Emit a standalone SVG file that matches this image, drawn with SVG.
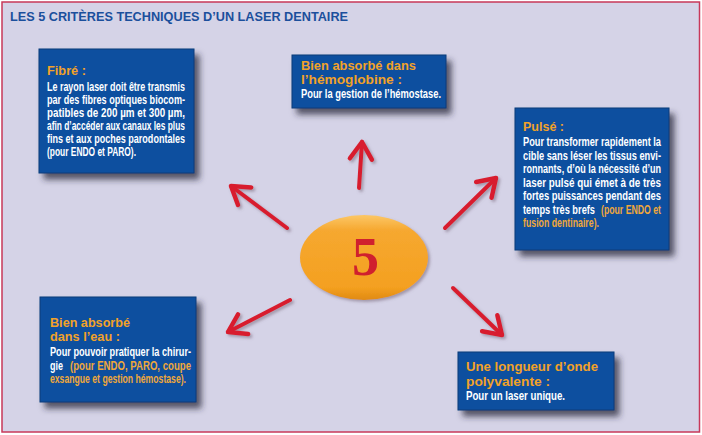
<svg xmlns="http://www.w3.org/2000/svg" width="702" height="435" viewBox="0 0 702 435">
<defs>
<style>
.box{fill:#0b4f9f;stroke:#073a78;stroke-width:1}
.hd{font-family:"Liberation Sans",Arial,sans-serif;font-weight:bold;font-size:13.5px;fill:#f2a228}
.bd{font-family:"Liberation Sans Narrow","Liberation Sans",Arial,sans-serif;font-weight:bold;font-size:12.2px;fill:#ffffff}
.or{fill:#f0a83a}
.arr{fill:none;stroke:#d81f2e;stroke-width:4;stroke-linecap:round;stroke-linejoin:round}
</style>
<filter id="sh" x="-10%" y="-10%" width="130%" height="140%">
<feDropShadow dx="5" dy="6" stdDeviation="3" flood-color="#2a2a3a" flood-opacity="0.75"/>
</filter>
<filter id="ash" x="-20%" y="-20%" width="140%" height="140%">
<feDropShadow dx="2" dy="2" stdDeviation="1.5" flood-color="#6a5a6a" flood-opacity="0.5"/>
</filter>
<marker id="head" markerUnits="userSpaceOnUse" markerWidth="34" markerHeight="34" viewBox="-22 -17 34 34" refX="0" refY="0" orient="auto">
<path d="M -17 -11 L 0 0 L -17 11" fill="none" stroke="#d81f2e" stroke-width="4.5" stroke-linecap="round" stroke-linejoin="round"/>
</marker>
<linearGradient id="og" x1="0" y1="0" x2="0" y2="1">
<stop offset="0" stop-color="#fcc766"/>
<stop offset="0.18" stop-color="#f6a830"/>
<stop offset="0.85" stop-color="#f4a020"/>
<stop offset="1" stop-color="#e08a12"/>
</linearGradient>
</defs>
<rect x="0" y="0" width="702" height="435" fill="#ffffff"/>
<rect x="2" y="2" width="697.5" height="430" fill="#d5d3e7" stroke="#c8385a" stroke-width="1.5"/>
<text x="10" y="20.5" font-family="'Liberation Sans',Arial,sans-serif" font-weight="bold" font-size="13" fill="#1b4f9c" textLength="338" lengthAdjust="spacingAndGlyphs">LES 5 CRITÈRES TECHNIQUES D’UN LASER DENTAIRE</text>

<g id="connectors" filter="url(#ash)">
<path class="arr" d="M 287 228 L 231 186" marker-end="url(#head)"/>
<path class="arr" d="M 359 188 L 362 142" marker-end="url(#head)"/>
<path class="arr" d="M 445 228 L 496 178" marker-end="url(#head)"/>
<path class="arr" d="M 290 300 L 228 332" marker-end="url(#head)"/>
<path class="arr" d="M 453 288 L 502 335" marker-end="url(#head)"/>
</g>

<g id="center">
<ellipse cx="364" cy="257.5" rx="64" ry="42.5" fill="url(#og)" filter="url(#ash)"/>
<text x="365.5" y="275" text-anchor="middle" font-family="'Liberation Serif','Times New Roman',serif" font-weight="bold" font-size="54" fill="#d0202e">5</text>
</g>

<g id="fibre">
<rect class="box" x="39" y="49" width="155" height="124" filter="url(#sh)"/>
<text class="hd" x="47" y="75" textLength="39" lengthAdjust="spacingAndGlyphs">Fibré :</text>
<text class="bd" x="47" y="91" textLength="138" lengthAdjust="spacingAndGlyphs">Le rayon laser doit être transmis</text>
<text class="bd" x="47" y="104" textLength="138" lengthAdjust="spacingAndGlyphs">par des fibres optiques biocom-</text>
<text class="bd" x="47" y="117" textLength="138" lengthAdjust="spacingAndGlyphs">patibles de 200 µm et 300 µm,</text>
<text class="bd" x="47" y="130" textLength="138" lengthAdjust="spacingAndGlyphs">afin d’accéder aux canaux les plus</text>
<text class="bd" x="47" y="143" textLength="138" lengthAdjust="spacingAndGlyphs">fins et aux poches parodontales</text>
<text class="bd" x="47" y="156" textLength="89" lengthAdjust="spacingAndGlyphs">(pour ENDO et PARO).</text>
</g>

<g id="hemoglobine">
<rect class="box" x="292" y="55" width="154" height="53" filter="url(#sh)"/>
<text class="hd" x="301" y="70" textLength="115" lengthAdjust="spacingAndGlyphs">Bien absorbé dans</text>
<text class="hd" x="301" y="83.5" textLength="101" lengthAdjust="spacingAndGlyphs">l’hémoglobine :</text>
<text class="bd" x="301" y="98" textLength="140" lengthAdjust="spacingAndGlyphs">Pour la gestion de l’hémostase.</text>
</g>

<g id="pulse">
<rect class="box" x="515" y="108" width="154" height="142" filter="url(#sh)"/>
<text class="hd" x="523" y="131" textLength="41" lengthAdjust="spacingAndGlyphs">Pulsé :</text>
<text class="bd" x="523" y="146" textLength="138" lengthAdjust="spacingAndGlyphs">Pour transformer rapidement la</text>
<text class="bd" x="523" y="159.5" textLength="138" lengthAdjust="spacingAndGlyphs">cible sans léser les tissus envi-</text>
<text class="bd" x="523" y="173" textLength="138" lengthAdjust="spacingAndGlyphs">ronnants, d’où la nécessité d’un</text>
<text class="bd" x="523" y="186.5" textLength="138" lengthAdjust="spacingAndGlyphs">laser pulsé qui émet à de très</text>
<text class="bd" x="523" y="200" textLength="138" lengthAdjust="spacingAndGlyphs">fortes puissances pendant des</text>
<text class="bd" x="523" y="213.5" textLength="72" lengthAdjust="spacingAndGlyphs">temps très brefs</text>
<text class="bd or" x="601" y="213.5" textLength="60" lengthAdjust="spacingAndGlyphs">(pour ENDO et</text>
<text class="bd or" x="523" y="227" textLength="76" lengthAdjust="spacingAndGlyphs">fusion dentinaire).</text>
</g>

<g id="eau">
<rect class="box" x="40" y="297" width="156" height="105" filter="url(#sh)"/>
<text class="hd" x="50" y="327" textLength="80" lengthAdjust="spacingAndGlyphs">Bien absorbé</text>
<text class="hd" x="50" y="341" textLength="70" lengthAdjust="spacingAndGlyphs">dans l’eau :</text>
<text class="bd" x="50" y="356" textLength="141" lengthAdjust="spacingAndGlyphs">Pour pouvoir pratiquer la chirur-</text>
<text class="bd" x="50" y="369.5" textLength="13" lengthAdjust="spacingAndGlyphs">gie</text>
<text class="bd or" x="70" y="369.5" textLength="121" lengthAdjust="spacingAndGlyphs">(pour ENDO, PARO, coupe</text>
<text class="bd or" x="50" y="383" textLength="136" lengthAdjust="spacingAndGlyphs">exsangue et gestion hémostase).</text>
</g>

<g id="longueur">
<rect class="box" x="458" y="352" width="156" height="58" filter="url(#sh)"/>
<text class="hd" x="466" y="371" textLength="132" lengthAdjust="spacingAndGlyphs">Une longueur d’onde</text>
<text class="hd" x="466" y="385.5" textLength="84" lengthAdjust="spacingAndGlyphs">polyvalente :</text>
<text class="bd" x="466" y="400" textLength="99" lengthAdjust="spacingAndGlyphs">Pour un laser unique.</text>
</g>
</svg>
